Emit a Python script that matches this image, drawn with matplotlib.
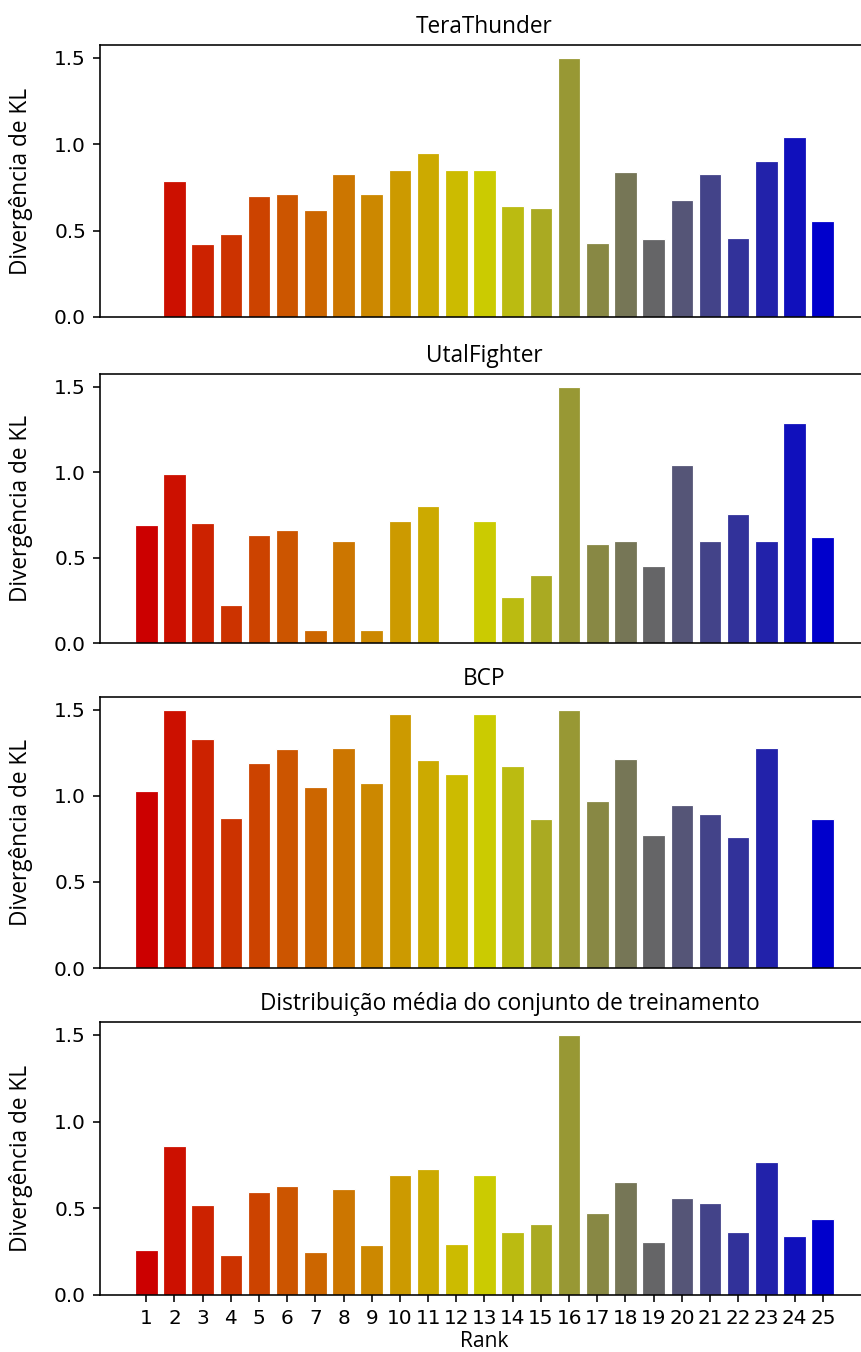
import numpy as np
import matplotlib.pyplot as plt
from matplotlib.colors import LinearSegmentedColormap

ranks = list(range(1, 26))

titles = ['TeraThunder', 'UtalFighter', 'BCP',
          'Distribuição média do conjunto de treinamento']

# nan = sem barra
tera = [np.nan, 0.79, 0.42, 0.48, 0.70, 0.71, 0.62, 0.83, 0.71, 0.85,
        0.95, 0.85, 0.85, 0.64, 0.63, 1.50, 0.43, 0.84, 0.45, 0.68,
        0.83, 0.46, 0.905, 1.04, 0.555]
utal = [0.69, 0.99, 0.70, 0.22, 0.635, 0.66, 0.075, 0.595, 0.075, 0.715,
        0.805, np.nan, 0.715, 0.27, 0.40, 1.50, 0.58, 0.60, 0.45, 1.04,
        0.60, 0.757, 0.60, 1.29, 0.618]
bcp = [1.028, 1.50, 1.33, 0.872, 1.19, 1.273, 1.052, 1.28, 1.076, 1.477,
       1.207, 1.126, 1.477, 1.174, 0.864, 1.50, 0.97, 1.215, 0.775, 0.945,
       0.897, 0.759, 1.279, np.nan, 0.864]
media = [0.262, 0.86, 0.52, 0.229, 0.594, 0.627, 0.247, 0.609, 0.287, 0.692,
         0.725, 0.293, 0.692, 0.366, 0.409, 1.50, 0.472, 0.652, 0.303, 0.561,
         0.53, 0.366, 0.765, 0.343, 0.44]
series = [tera, utal, bcp, media]

cmap = LinearSegmentedColormap.from_list(
    'rank', [(0, '#cc0000'), (0.5, '#cccc00'), (0.75, '#666666'), (1, '#0000cc')])
cores = [cmap(i / (len(ranks) - 1)) for i in range(len(ranks))]

dpi = 144
W, H = 861, 1352
fig = plt.figure(figsize=(W / dpi, H / dpi), dpi=dpi)

# posicoes dos paineis em pixels (topo, base)
paineis = [(45, 317), (374, 643), (697, 968), (1022, 1295)]
left, right = 100, 869
title_x = [0.5, 0.5, 0.5, 0.533]

for k, (top, bot) in enumerate(paineis):
    ax = fig.add_axes([left / W, 1 - bot / H, (right - left) / W, (bot - top) / H])
    ax.bar(ranks, series[k], width=0.8, color=cores, edgecolor='white', linewidth=0.6)
    ax.set_xlim(-0.64, 26.64)
    ax.set_ylim(0, 1.575)
    ax.set_yticks([0.0, 0.5, 1.0, 1.5])
    ax.set_xticks(ranks)
    ax.spines['right'].set_visible(False)
    t = ax.set_title(titles[k], family='Open Sans', fontsize=11.3)
    t.set_x(title_x[k])
    ax.set_ylabel('Divergência de KL', family='Open Sans', fontsize=11.3)
    ax.yaxis.set_label_coords(-0.087, 0.5)
    if k < 3:
        ax.tick_params(axis='x', bottom=False, labelbottom=False)
    else:
        ax.set_xlabel('Rank', family='Open Sans', fontsize=10.5, labelpad=1.5)

fig.savefig('out.png', dpi=dpi)
